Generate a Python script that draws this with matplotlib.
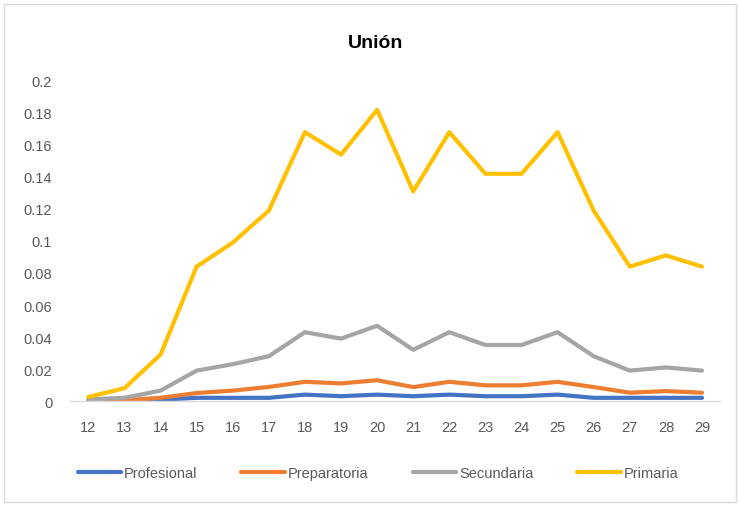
import matplotlib.pyplot as plt
import matplotlib.patches as mpatches

plt.rcParams['font.family'] = ['Liberation Sans', 'DejaVu Sans']

edades = list(range(12, 30))
profesional = [0.0, 0.0, 0.0008, 0.002, 0.002, 0.002, 0.004, 0.003, 0.004,
               0.003, 0.004, 0.003, 0.003, 0.004, 0.002, 0.002, 0.002, 0.002]
preparatoria = [0.0, 0.0005, 0.002, 0.005, 0.0065, 0.0088, 0.012, 0.011, 0.013,
                0.0087, 0.012, 0.0098, 0.0098, 0.012, 0.0087, 0.0052, 0.0062, 0.0052]
secundaria = [0.001, 0.002, 0.0065, 0.019, 0.023, 0.028, 0.043, 0.039, 0.047,
              0.032, 0.043, 0.035, 0.035, 0.043, 0.028, 0.019, 0.021, 0.019]
primaria = [0.0025, 0.008, 0.029, 0.084, 0.099, 0.119, 0.168, 0.154, 0.182,
            0.131, 0.168, 0.142, 0.142, 0.168, 0.119, 0.084, 0.091, 0.084]

series = [("Profesional", profesional, "#4472C4"),
          ("Preparatoria", preparatoria, "#ED7D31"),
          ("Secundaria", secundaria, "#A5A5A5"),
          ("Primaria", primaria, "#FFC000")]

texto = "#595959"

fig = plt.figure(figsize=(7.4, 5.06), dpi=100)
fig.patches.append(mpatches.Rectangle((0.006, 0.006), 0.989, 0.985, transform=fig.transFigure,
                                      fill=False, edgecolor="#D9D9D9", linewidth=1))
ax = fig.add_axes([0.095, 0.2055, 0.878, 0.6325])

for nombre, valores, color in series:
    ax.plot(edades, valores, color=color, linewidth=3, label=nombre, solid_capstyle="round")

ax.set_xlim(11.5, 29.5)
ax.set_ylim(0, 0.2)
ax.set_xticks(edades)
ax.set_yticks([0, 0.02, 0.04, 0.06, 0.08, 0.1, 0.12, 0.14, 0.16, 0.18, 0.2])
ax.set_yticklabels(["0", "0.02", "0.04", "0.06", "0.08", "0.1", "0.12", "0.14", "0.16", "0.18", "0.2"])
for s in ["top", "right", "left"]:
    ax.spines[s].set_visible(False)
ax.spines["bottom"].set_color("#D9D9D9")
ax.spines["bottom"].set_linewidth(1)
ax.tick_params(axis="both", length=0, labelsize=10.5, labelcolor=texto)
ax.tick_params(axis="y", pad=13)
ax.tick_params(axis="x", pad=14)

fig.text(0.507, 0.915, "Unión", ha="center", va="center", fontsize=14, fontweight="bold", color="black")

fig.legend(loc="center", bbox_to_anchor=(0.511, 0.063), ncol=4, frameon=False, fontsize=10.5,
           labelcolor=texto, handlelength=3.0, handletextpad=0.2, columnspacing=3.0)

fig.savefig("out.png", dpi=100)
